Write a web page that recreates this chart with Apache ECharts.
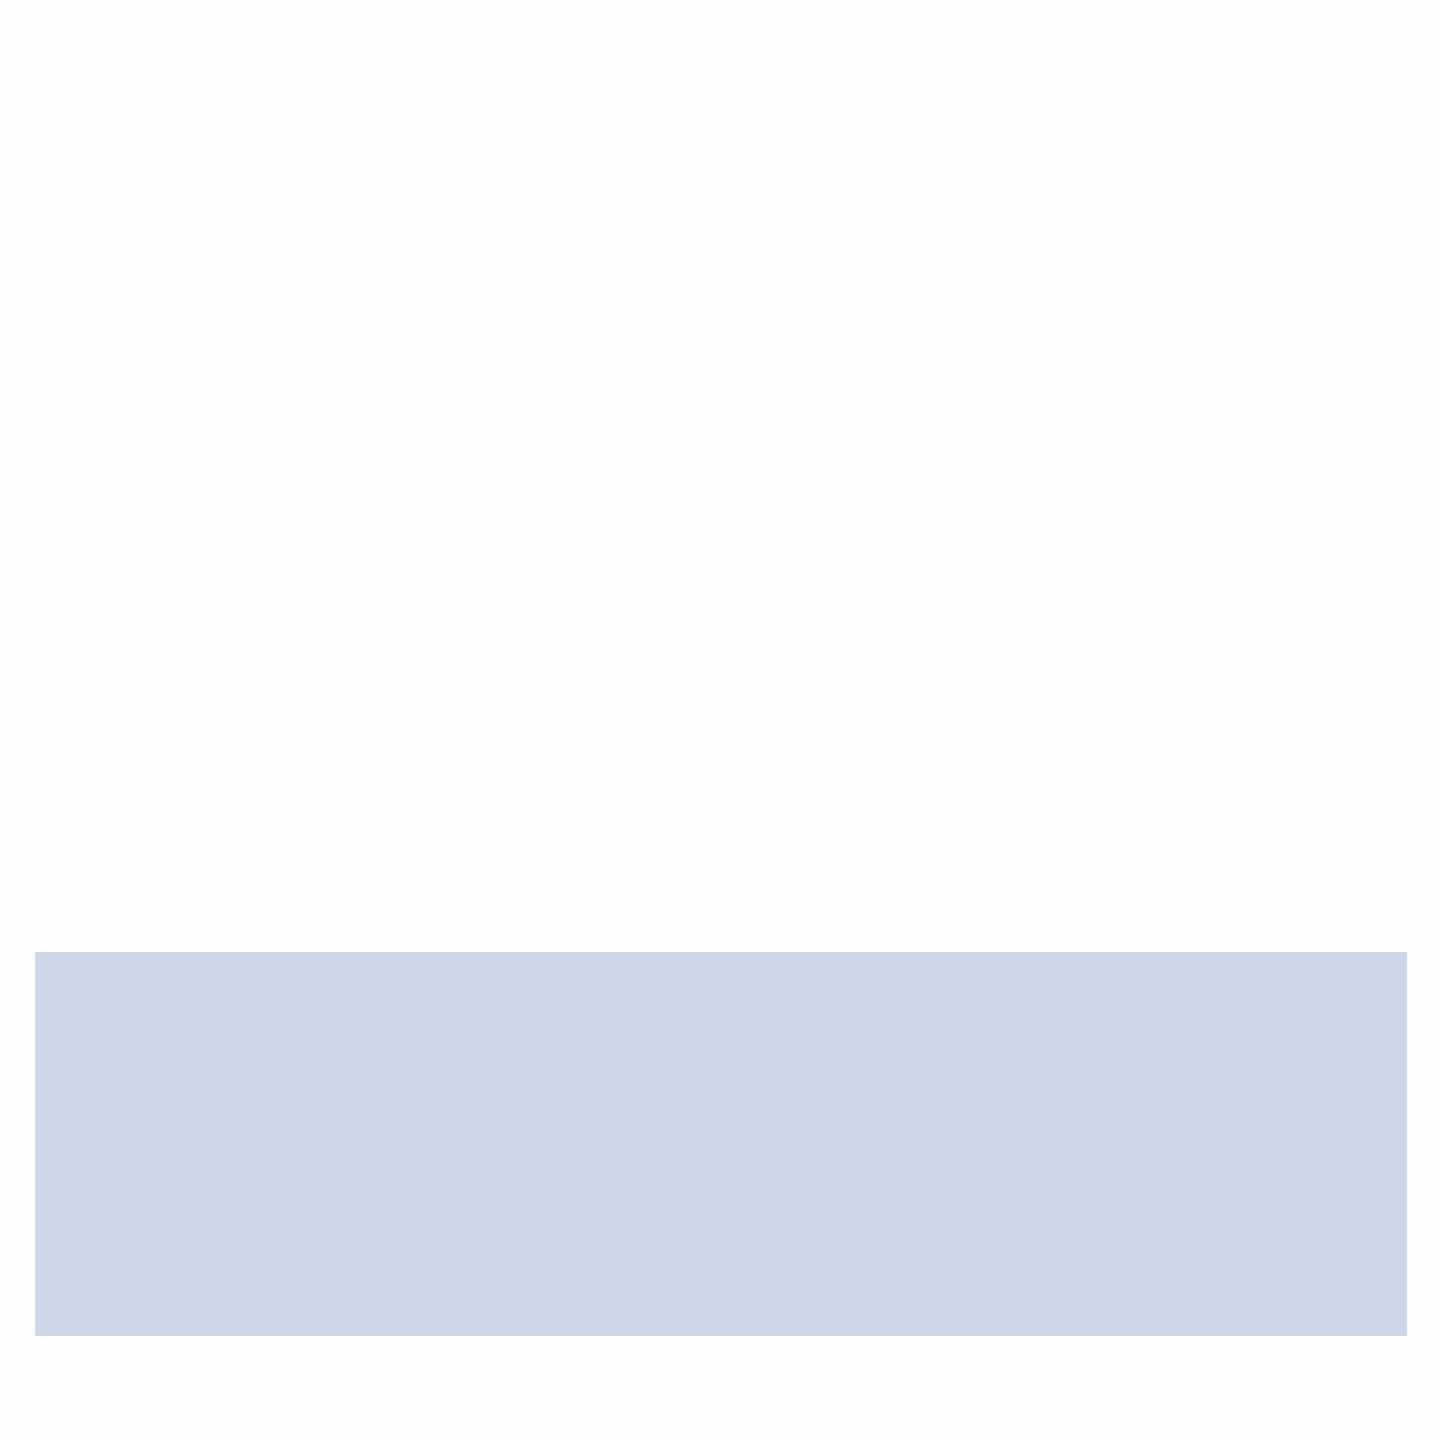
<!DOCTYPE html>
<html>
<head>
<meta charset="utf-8">
<title>chart</title>
<script src="https://cdn.jsdelivr.net/npm/echarts@6/dist/echarts.min.js"></script>
<style>
html, body { margin: 0; padding: 0; background: #fefefe; }
#main { width: 1440px; height: 1440px; }
</style>
</head>
<body>
<div id="main"></div>
<script>
// 数据
var categories = ['A'];
var values = [1];

var chart = echarts.init(document.getElementById('main'));

var option = {
	backgroundColor: '#fefefe',
	animation: false,
	grid: {
		left: 35,
		right: 33,
		top: 952,
		bottom: 104,
		containLabel: false
	},
	xAxis: {
		type: 'category',
		data: categories,
		show: false
	},
	yAxis: {
		type: 'value',
		min: 0,
		max: 1,
		show: false
	},
	series: [{
		type: 'bar',
		data: values,
		barWidth: '100%',
		itemStyle: {
			color: '#cdd7e8'
		}
	}]
};
chart.setOption(option);
</script>
</body>
</html>
